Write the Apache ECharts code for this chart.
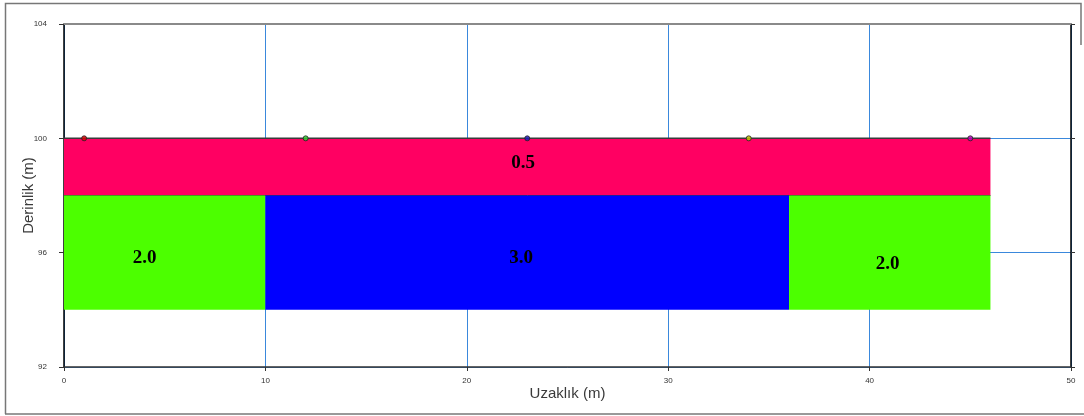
<!DOCTYPE html>
<html>
<head>
<meta charset="utf-8">
<script src="https://cdn.jsdelivr.net/npm/echarts@6/dist/echarts.min.js"></script>
<style>
  html, body { margin: 0; padding: 0; background: #fff; }
  #chart { width: 1084px; height: 416px; }
</style>
</head>
<body>
<div id="chart"></div>
<script>
// Layer model: horizontal extents (m), depth extents (m) and resistivity values
const layerXStart = [0, 0, 10, 36];
const layerXEnd = [46, 10, 36, 46];
const layerTop = [100, 98, 98, 98];
const layerBottom = [98, 94, 94, 94];
const layerValue = [0.5, 2.0, 3.0, 2.0];
const layerColor = ['#ff0062', '#4cff00', '#0000ff', '#4cff00'];

// Where each layer's value label sits (m)
const labelX = [22.8, 4.0, 22.7, 40.9];
const labelY = [99.15, 95.8, 95.8, 95.6];

// Electrode positions along the surface
const electrodeX = [1, 12, 23, 34, 45];
const electrodeDepth = [100, 100, 100, 100, 100];
const electrodeColor = ['#e00000', '#2fd22f', '#1c1cc0', '#c8c800', '#c000c0'];

// Axis ranges and tick spacing
const xMin = 0, xMax = 50, xStep = 10;
const yMin = 92, yMax = 104, yStep = 4;

const layerData = layerValue.map((v, i) => [layerXStart[i], layerXEnd[i], layerTop[i], layerBottom[i], v]);
const labelData = layerValue.map((v, i) => [labelX[i], labelY[i], v]);
const pointData = electrodeX.map((x, i) => ({
  value: [x, electrodeDepth[i]],
  itemStyle: { color: electrodeColor[i] }
}));

const chart = echarts.init(document.getElementById('chart'));
const gridColor = '#3a88dc';
const fontFamily = 'Liberation Sans, Arial, sans-serif';

chart.setOption({
  animation: false,
  backgroundColor: '#fff',
  grid: { left: 64, right: 13, top: 24, bottom: 49 },
  xAxis: [{
    type: 'value', min: xMin, max: xMax, interval: xStep,
    name: 'Uzaklık (m)', nameLocation: 'middle', nameGap: 19, nameMoveOverlap: false,
    nameTextStyle: { fontSize: 15, color: '#3a3a3a', fontFamily },
    axisLine: { show: true, lineStyle: { color: '#333', width: 1.5 } },
    axisTick: { show: true, inside: false, length: 4, lineStyle: { color: '#333' } },
    axisLabel: { fontSize: 8, color: '#333', margin: 10, fontFamily },
    splitLine: { show: true, lineStyle: { color: gridColor, width: 1 } }
  }, {
    type: 'value', min: xMin, max: xMax, position: 'top',
    axisLine: { show: true, onZero: false, lineStyle: { color: '#8a8a8a', width: 2 } },
    axisTick: { show: false }, axisLabel: { show: false }, splitLine: { show: false }
  }],
  yAxis: [{
    type: 'value', min: yMin, max: yMax, interval: yStep,
    name: 'Derinlik (m)', nameLocation: 'middle', nameGap: 28, nameRotate: 90, nameMoveOverlap: false,
    nameTextStyle: { fontSize: 15, color: '#3a3a3a', fontFamily },
    axisLine: { show: true, lineStyle: { color: '#000', width: 1.5 } },
    axisTick: { show: true, inside: false, length: 5, lineStyle: { color: '#333' } },
    axisLabel: { fontSize: 8, color: '#333', margin: 17, fontFamily },
    splitLine: { show: true, lineStyle: { color: gridColor, width: 1 } }
  }, {
    type: 'value', min: yMin, max: yMax, interval: yStep, position: 'right',
    axisLine: { show: true, onZero: false, lineStyle: { color: '#000', width: 1.5 } },
    axisTick: { show: true, inside: false, length: 4, lineStyle: { color: '#333' } },
    axisLabel: { show: false }, splitLine: { show: false }
  }],
  series: [{
    type: 'custom',
    z: 3,
    data: layerData,
    renderItem: function (params, api) {
      const i = params.dataIndex;
      const p0 = api.coord([api.value(0), api.value(2)]);
      const p1 = api.coord([api.value(1), api.value(3)]);
      const children = [{
        type: 'rect',
        shape: { x: p0[0], y: p0[1], width: p1[0] - p0[0], height: p1[1] - p0[1] },
        style: { fill: layerColor[i], stroke: null }
      }];
      if (i === 0) {
        children.push({
          type: 'line',
          shape: { x1: p0[0], y1: p0[1], x2: p1[0], y2: p0[1] },
          style: { stroke: '#3a3a3a', lineWidth: 1.5 }
        }, {
          type: 'line',
          shape: { x1: p0[0], y1: p1[1], x2: p1[0], y2: p1[1] },
          style: { stroke: '#3a3a3a', lineWidth: 1 }
        });
      }
      return { type: 'group', children: children };
    }
  }, {
    type: 'custom',
    z: 5,
    data: labelData,
    renderItem: function (params, api) {
      const p = api.coord([api.value(0), api.value(1)]);
      return {
        type: 'text',
        x: p[0], y: p[1],
        style: {
          text: api.value(2).toFixed(1),
          fill: '#000',
          font: 'bold 19px "Liberation Serif", "Times New Roman", serif',
          align: 'center', verticalAlign: 'middle'
        }
      };
    }
  }, {
    type: 'scatter',
    z: 6,
    symbol: 'circle',
    symbolSize: 5,
    itemStyle: { borderColor: '#222', borderWidth: 1 },
    data: pointData
  }],
  graphic: [{
    type: 'polyline',
    shape: { points: [[5.5, 414], [5.5, 3.5], [1081, 3.5], [1081, 45]] },
    style: { stroke: '#777', lineWidth: 1.5, fill: null }
  }, {
    type: 'line',
    shape: { x1: 5, y1: 414, x2: 1084, y2: 414 },
    style: { stroke: '#777', lineWidth: 1.5 }
  }]
});
</script>
</body>
</html>
